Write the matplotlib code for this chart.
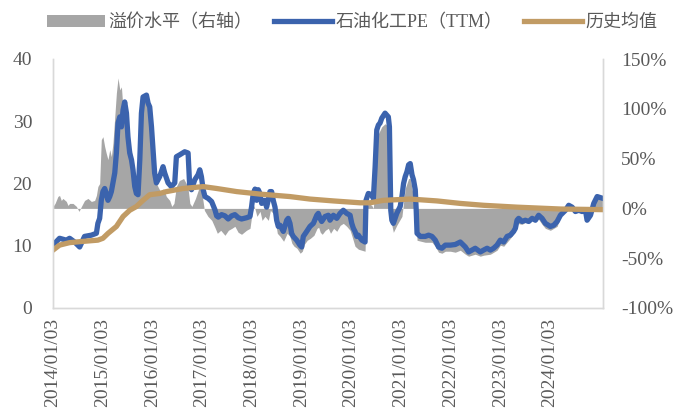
import matplotlib
matplotlib.use('Agg')
import matplotlib.pyplot as plt
import matplotlib.dates as mdates
from matplotlib.ticker import FuncFormatter
import pandas as pd

plt.rcParams['font.family'] = ['Liberation Serif', 'Noto Sans CJK SC']

# 石油化工PE（TTM）
pe_points = [
    ('2014-01-03', 10.1), ('2014-02-20', 11.2), ('2014-04-11', 10.9), ('2014-05-05', 11.2),
    ('2014-06-11', 10.6), ('2014-07-18', 9.8), ('2014-08-23', 11.5), ('2014-10-12', 11.7),
    ('2014-11-18', 12.0), ('2014-11-29', 13.6), ('2014-12-12', 14.4), ('2014-12-24', 17.3),
    ('2015-01-05', 18.7), ('2015-01-18', 19.2), ('2015-01-30', 18.4), ('2015-02-11', 17.3),
    ('2015-02-24', 17.9), ('2015-03-08', 18.7), ('2015-03-20', 20.1), ('2015-04-02', 21.7),
    ('2015-04-14', 24.9), ('2015-04-26', 29.7), ('2015-05-09', 30.7), ('2015-05-21', 29.1),
    ('2015-06-02', 31.8), ('2015-06-14', 33.1), ('2015-06-27', 31.3), ('2015-07-08', 27.5),
    ('2015-07-21', 24.9), ('2015-08-03', 23.8), ('2015-08-14', 22.2), ('2015-08-27', 19.5),
    ('2015-09-08', 18.4), ('2015-09-20', 18.2), ('2015-10-03', 23.8), ('2015-10-15', 31.3),
    ('2015-10-27', 33.9), ('2015-11-21', 34.2), ('2015-12-03', 32.9), ('2015-12-15', 32.3),
    ('2015-12-28', 29.1), ('2016-01-08', 25.5), ('2016-01-20', 21.7), ('2016-02-02', 20.1),
    ('2016-02-26', 21.1), ('2016-03-22', 22.7), ('2016-04-03', 21.7), ('2016-04-28', 20.1),
    ('2016-05-22', 19.5), ('2016-06-16', 20.1), ('2016-06-28', 24.3), ('2016-07-22', 24.6),
    ('2016-08-28', 25.1), ('2016-09-22', 24.9), ('2016-10-04', 19.5), ('2016-10-17', 19.0),
    ('2016-11-10', 20.6), ('2016-12-04', 21.4), ('2016-12-17', 22.2), ('2016-12-29', 21.1),
    ('2017-01-11', 19.0), ('2017-01-24', 17.9), ('2017-02-17', 17.6), ('2017-03-14', 17.1),
    ('2017-04-07', 15.8), ('2017-04-20', 14.8), ('2017-05-02', 14.6), ('2017-05-26', 15.0),
    ('2017-06-20', 14.8), ('2017-07-14', 14.3), ('2017-08-08', 14.8), ('2017-09-01', 15.0),
    ('2017-09-26', 14.5), ('2017-10-20', 14.3), ('2017-11-26', 14.5), ('2017-12-21', 14.7),
    ('2018-01-02', 16.3), ('2018-01-14', 18.4), ('2018-01-27', 19.1), ('2018-02-08', 17.3),
    ('2018-02-20', 19.0), ('2018-03-04', 18.4), ('2018-03-17', 16.8), ('2018-04-10', 17.3),
    ('2018-04-22', 16.2), ('2018-05-04', 17.3), ('2018-05-17', 18.7), ('2018-05-29', 18.7),
    ('2018-06-10', 17.3), ('2018-06-23', 16.2), ('2018-07-05', 14.1), ('2018-07-17', 13.1),
    ('2018-07-30', 13.3), ('2018-08-23', 12.3), ('2018-09-17', 14.1), ('2018-09-28', 14.4),
    ('2018-10-11', 13.6), ('2018-10-23', 12.0), ('2018-11-04', 11.5), ('2018-11-29', 10.9),
    ('2018-12-23', 10.1), ('2019-01-05', 9.8), ('2019-01-17', 11.5), ('2019-02-11', 12.3),
    ('2019-03-07', 13.1), ('2019-04-01', 13.6), ('2019-04-26', 14.9), ('2019-05-07', 15.2),
    ('2019-05-20', 14.4), ('2019-06-01', 13.9), ('2019-06-26', 14.7), ('2019-07-20', 14.9),
    ('2019-08-01', 14.1), ('2019-08-26', 14.9), ('2019-09-20', 14.4), ('2019-10-14', 15.2),
    ('2019-11-07', 15.7), ('2019-12-02', 15.2), ('2019-12-27', 14.9), ('2020-01-08', 13.6),
    ('2020-01-20', 12.8), ('2020-02-01', 12.3), ('2020-02-14', 11.5), ('2020-02-26', 11.7),
    ('2020-03-22', 10.9), ('2020-04-15', 10.6), ('2020-04-22', 17.3), ('2020-05-09', 18.4),
    ('2020-06-03', 18.2), ('2020-06-15', 17.6), ('2020-06-28', 22.7), ('2020-07-10', 28.6),
    ('2020-07-22', 29.4), ('2020-08-03', 29.7), ('2020-08-16', 30.5), ('2020-09-09', 31.3),
    ('2020-10-03', 30.7), ('2020-10-11', 29.1), ('2020-10-16', 22.7), ('2020-10-21', 15.7),
    ('2020-10-29', 14.1), ('2020-11-09', 13.6), ('2020-12-04', 15.2), ('2020-12-29', 16.3),
    ('2021-01-11', 17.9), ('2021-01-23', 20.0), ('2021-02-04', 21.1), ('2021-02-17', 21.9),
    ('2021-03-01', 23.0), ('2021-03-13', 23.2), ('2021-03-26', 21.4), ('2021-04-06', 20.6),
    ('2021-04-19', 19.0), ('2021-04-26', 15.7), ('2021-05-02', 12.0), ('2021-05-26', 11.5),
    ('2021-07-01', 11.5), ('2021-07-26', 11.7), ('2021-08-20', 11.5), ('2021-09-13', 10.9),
    ('2021-10-07', 9.8), ('2021-11-01', 9.6), ('2021-11-26', 10.1), ('2022-01-02', 10.1),
    ('2022-02-07', 10.2), ('2022-03-16', 10.6), ('2022-04-22', 9.8), ('2022-05-16', 9.0),
    ('2022-06-10', 9.3), ('2022-07-04', 9.6), ('2022-08-10', 9.0), ('2022-09-03', 9.3),
    ('2022-09-29', 9.6), ('2022-10-23', 9.3), ('2022-11-16', 9.6), ('2022-12-11', 10.1),
    ('2023-01-04', 10.9), ('2023-01-29', 10.6), ('2023-02-23', 11.5), ('2023-03-19', 11.7),
    ('2023-04-12', 12.3), ('2023-04-25', 12.8), ('2023-05-07', 14.1), ('2023-05-19', 14.4),
    ('2023-06-13', 13.9), ('2023-07-07', 14.1), ('2023-08-01', 13.9), ('2023-08-26', 14.4),
    ('2023-09-19', 14.1), ('2023-10-13', 14.9), ('2023-11-07', 14.4), ('2023-12-01', 13.6),
    ('2024-01-07', 13.1), ('2024-02-01', 13.3), ('2024-02-26', 13.9), ('2024-03-21', 14.9),
    ('2024-04-27', 15.7), ('2024-05-21', 16.5), ('2024-06-15', 16.2), ('2024-07-09', 15.5),
    ('2024-08-03', 15.7), ('2024-08-27', 15.5), ('2024-09-21', 15.7), ('2024-10-03', 14.1),
    ('2024-10-28', 14.9), ('2024-11-21', 16.8), ('2024-12-16', 17.9), ('2025-01-28', 17.6),
]

# 历史均值
mean_points = [
    ('2014-01-03', 9.3), ('2014-02-20', 10.1), ('2014-05-05', 10.5), ('2014-08-11', 10.7),
    ('2014-11-29', 10.9), ('2015-01-05', 11.2), ('2015-02-12', 12.0), ('2015-04-14', 13.1),
    ('2015-06-02', 14.7), ('2015-07-21', 15.7), ('2015-09-08', 16.3), ('2015-10-27', 17.3),
    ('2015-12-15', 18.2), ('2016-02-26', 18.4), ('2016-04-16', 18.7), ('2016-08-16', 19.2),
    ('2017-01-11', 19.5), ('2017-04-20', 19.2), ('2017-09-14', 18.7), ('2018-03-04', 18.3),
    ('2018-10-11', 17.9), ('2019-03-07', 17.5), ('2019-08-26', 17.2), ('2020-03-09', 16.9),
    ('2020-05-22', 16.9), ('2020-08-28', 17.3), ('2021-03-13', 17.5), ('2021-09-26', 17.2),
    ('2022-03-16', 16.8), ('2022-09-03', 16.5), ('2023-05-07', 16.2), ('2024-03-21', 15.9),
    ('2025-01-28', 15.8),
]

# 溢价水平（右轴），单位 %
premium_points = [
    ('2014-01-03', 2), ('2014-01-18', 5), ('2014-02-08', 12), ('2014-02-20', 13),
    ('2014-03-05', 8), ('2014-03-17', 10), ('2014-04-11', 7), ('2014-04-23', 3),
    ('2014-05-05', 5), ('2014-05-30', 5), ('2014-06-24', 2), ('2014-07-13', -3),
    ('2014-07-31', 2), ('2014-08-23', 8), ('2014-09-17', 10), ('2014-10-12', 7),
    ('2014-11-05', 8), ('2014-11-18', 13), ('2014-11-29', 22), ('2014-12-12', 25),
    ('2014-12-24', 69), ('2015-01-05', 72), ('2015-01-18', 62), ('2015-01-30', 55),
    ('2015-02-11', 49), ('2015-02-24', 59), ('2015-03-08', 52), ('2015-03-20', 66),
    ('2015-04-02', 92), ('2015-04-14', 116), ('2015-04-26', 131), ('2015-05-09', 119),
    ('2015-05-21', 122), ('2015-06-02', 99), ('2015-06-14', 89), ('2015-06-27', 82),
    ('2015-07-08', 62), ('2015-07-21', 52), ('2015-08-03', 59), ('2015-08-14', 39),
    ('2015-08-27', 29), ('2015-09-08', 18), ('2015-09-20', 49), ('2015-10-03', 89),
    ('2015-10-15', 109), ('2015-10-27', 114), ('2015-11-21', 112), ('2015-12-15', 99),
    ('2015-12-28', 65), ('2016-01-08', 42), ('2016-01-20', 29), ('2016-02-13', 22),
    ('2016-03-10', 15), ('2016-03-25', 20), ('2016-04-15', 12), ('2016-05-10', 8),
    ('2016-05-25', 2), ('2016-06-10', 5), ('2016-06-28', 22), ('2016-07-20', 28),
    ('2016-08-20', 30), ('2016-09-20', 22), ('2016-10-05', 5), ('2016-10-20', 2),
    ('2016-11-15', 10), ('2016-12-05', 18), ('2016-12-20', 25), ('2017-01-05', 12),
    ('2017-01-20', -2), ('2017-02-15', -8), ('2017-03-15', -12), ('2017-04-10', -20),
    ('2017-04-25', -25), ('2017-05-20', -22), ('2017-06-20', -27), ('2017-07-15', -22),
    ('2017-08-10', -20), ('2017-09-01', -18), ('2017-09-25', -24), ('2017-10-20', -26),
    ('2017-11-25', -22), ('2017-12-21', -20), ('2018-01-05', -5), ('2018-01-20', 3),
    ('2018-02-10', -8), ('2018-03-05', -3), ('2018-03-20', -12), ('2018-04-10', -8),
    ('2018-05-05', -12), ('2018-05-20', -2), ('2018-06-10', -5), ('2018-06-25', -12),
    ('2018-07-10', -25), ('2018-07-30', -28), ('2018-08-25', -33), ('2018-09-20', -25),
    ('2018-10-10', -28), ('2018-10-25', -35), ('2018-11-10', -38), ('2018-12-01', -40),
    ('2018-12-25', -45), ('2019-01-10', -43), ('2019-01-25', -36), ('2019-02-15', -32),
    ('2019-03-10', -30), ('2019-04-05', -27), ('2019-04-28', -20), ('2019-05-10', -19),
    ('2019-05-22', -24), ('2019-06-05', -26), ('2019-06-28', -22), ('2019-07-20', -20),
    ('2019-08-05', -25), ('2019-08-28', -20), ('2019-09-20', -23), ('2019-10-15', -17),
    ('2019-11-07', -15), ('2019-12-02', -18), ('2019-12-27', -22), ('2020-01-10', -28),
    ('2020-02-01', -38), ('2020-02-26', -41), ('2020-04-15', -43), ('2020-04-22', -2),
    ('2020-05-09', 5), ('2020-06-03', 3), ('2020-06-15', 0), ('2020-06-28', 28),
    ('2020-07-10', 63), ('2020-07-22', 75), ('2020-08-16', 82), ('2020-09-09', 85),
    ('2020-10-03', 82), ('2020-10-16', 30), ('2020-10-21', -12), ('2020-11-09', -24),
    ('2020-12-04', -17), ('2021-01-11', -8), ('2021-02-04', 20), ('2021-03-01', 30),
    ('2021-03-13', 30), ('2021-04-06', 12), ('2021-04-26', -8), ('2021-05-02', -32),
    ('2021-07-01', -34), ('2021-08-20', -34), ('2021-09-13', -38), ('2021-10-07', -44),
    ('2021-11-01', -45), ('2021-11-26', -43), ('2022-01-02', -43), ('2022-02-07', -44),
    ('2022-03-16', -42), ('2022-04-22', -46), ('2022-05-16', -48), ('2022-07-04', -46),
    ('2022-08-10', -48), ('2022-09-03', -47), ('2022-10-23', -46), ('2022-12-11', -42),
    ('2023-01-04', -37), ('2023-01-29', -38), ('2023-03-19', -30), ('2023-04-25', -23),
    ('2023-05-07', -15), ('2023-06-13', -16), ('2023-07-07', -14), ('2023-08-26', -12),
    ('2023-09-19', -8), ('2023-10-13', -11), ('2023-11-07', -16), ('2023-12-01', -20),
    ('2024-01-07', -22), ('2024-02-26', -18), ('2024-03-21', -8), ('2024-04-27', -1),
    ('2024-05-21', 4), ('2024-06-15', 2), ('2024-07-09', -3), ('2024-08-03', -1),
    ('2024-09-21', -1), ('2024-10-03', -12), ('2024-10-28', -5), ('2024-11-21', 5),
    ('2024-12-16', 12), ('2025-01-28', 10),
]

tick_dates = ['2014-01-03', '2015-01-03', '2016-01-03', '2017-01-03', '2018-01-03', '2019-01-03',
              '2020-01-03', '2021-01-03', '2022-01-03', '2023-01-03', '2024-01-03']


def unzip(points):
    d, v = zip(*points)
    return pd.to_datetime(list(d)), list(v)


pe_d, pe_v = unzip(pe_points)
mean_d, mean_v = unzip(mean_points)
prem_d, prem_v = unzip(premium_points)

txt = '#595959'
spine = '#d9d9d9'

fig = plt.figure(figsize=(6.78, 4.17), dpi=100)
ax = fig.add_axes([53 / 678, 1 - 308 / 417, 550 / 678, 249 / 417])
ax2 = ax.twinx()

ax2.fill_between(prem_d, 0, prem_v, color='#a6a6a6', lw=0, label='溢价水平（右轴）')
ax.plot(pe_d, pe_v, color='#3b63ad', lw=3.8, label='石油化工PE（TTM）', solid_joinstyle='round')
ax.plot(mean_d, mean_v, color='#c19b64', lw=3.8, label='历史均值', solid_joinstyle='round')

ax.set_zorder(ax2.get_zorder() + 1)
ax.patch.set_visible(False)

ax.set_xlim(pd.Timestamp('2014-01-03'), pd.Timestamp('2025-01-28'))
ax.set_ylim(0, 40)
ax2.set_ylim(-100, 150)
ax.set_yticks(range(0, 41, 10))
ax2.set_yticks(range(-100, 151, 50))
ax2.yaxis.set_major_formatter(FuncFormatter(lambda v, p: f'{v:.0f}%'))
ax.set_xticks(pd.to_datetime(tick_dates))
ax.xaxis.set_major_formatter(mdates.DateFormatter('%Y/%m/%d'))
for lab in ax.get_xticklabels():
    lab.set_rotation(90)

ax.tick_params(axis='y', length=0, labelsize=14, colors=txt, pad=15)
ax.tick_params(axis='x', length=0, labelsize=14, colors=txt, pad=7)
ax2.tick_params(axis='y', length=0, labelsize=14, colors=txt, pad=13)

for a in (ax, ax2):
    a.spines['top'].set_visible(False)
    for s in ('left', 'right', 'bottom'):
        a.spines[s].set_color(spine)
        a.spines[s].set_linewidth(1.0)

h1, l1 = ax2.get_legend_handles_labels()
h2, l2 = ax.get_legend_handles_labels()
fig.legend(h1 + h2, l1 + l2, loc='center', bbox_to_anchor=(0.52, 0.946), ncol=3,
           frameon=False, fontsize=13, labelcolor=txt, handlelength=3.2, handletextpad=0.2,
           columnspacing=1.2)

fig.savefig('out.png', dpi=100)
